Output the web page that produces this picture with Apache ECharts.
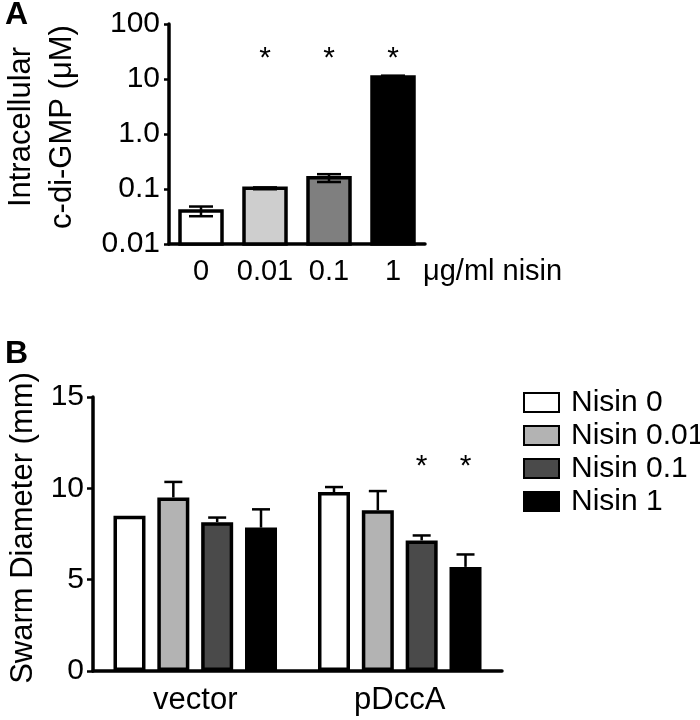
<!DOCTYPE html>
<html>
<head>
<meta charset="utf-8">
<script src="https://cdn.jsdelivr.net/npm/echarts@6/dist/echarts.min.js"></script>
<style>
html, body { margin: 0; padding: 0; background: #fff; }
#main { width: 700px; height: 720px; }
</style>
</head>
<body>
<div id="main"></div>
<script>
// ---- panel A: intracellular c-di-GMP vs nisin dose ----
var doseLabels = ['0', '0.01', '0.1', '1'];
var cdgMean = [0.04, 0.103, 0.16, 10.9];
var cdgErr = [0.008, 0.004, 0.026, 0.6];
var cdgSig = ['', '*', '*', '*'];
var logTicks = { '-2': '0.01', '-1': '0.1', '0': '1.0', '1': '10', '2': '100' };

// ---- panel B: swarm diameter ----
var strains = ['vector', 'pDccA'];
var nisinNames = ['Nisin 0', 'Nisin 0.01', 'Nisin 0.1', 'Nisin 1'];
var nisin0 = [8.5, 9.8];
var nisin001 = [9.5, 8.8];
var nisin01 = [8.15, 7.15];
var nisin1 = [7.85, 5.7];
var nisin0Err = [0, 0.27];
var nisin001Err = [0.85, 1.05];
var nisin01Err = [0.25, 0.27];
var nisin1Err = [1.0, 0.68];
var sigB = [['', ''], ['', ''], ['', '*'], ['', '*']];

var colorsA = ['#ffffff', '#cecece', '#7f7f7f', '#000000'];
var colorsB = ['#ffffff', '#b3b3b3', '#4a4a4a', '#000000'];
var font = 'Liberation Sans, Arial, Helvetica, sans-serif';

var swarmMeans = [nisin0, nisin001, nisin01, nisin1];
var swarmErrs = [nisin0Err, nisin001Err, nisin01Err, nisin1Err];

var barWA = 42;
var barWB = 32;
var gapB = 0.37;

var dataA = cdgMean.map(function (v, i) { return [i, v, cdgErr[i]]; });
var errDataB = [];
swarmMeans.forEach(function (arr, k) {
  arr.forEach(function (v, j) { errDataB.push([j, k, v, swarmErrs[k][j]]); });
});

function starText(x, y, txt) {
  return {
    type: 'text', x: x, y: y,
    style: { text: txt, fill: '#000', font: '30px ' + font, align: 'center', verticalAlign: 'middle' }
  };
}

function renderBarA(params, api) {
  var i = api.value(0);
  var top = api.coord([i, api.value(1)]);
  var base = api.coord([i, 0.01]);
  return {
    type: 'rect',
    shape: { x: top[0] - barWA / 2, y: top[1], width: barWA, height: base[1] - top[1] },
    style: { fill: colorsA[i], stroke: '#000', lineWidth: 3.5 }
  };
}

function renderErrA(params, api) {
  var i = api.value(0), m = api.value(1), e = api.value(2);
  var hi = api.coord([i, m + e]), lo = api.coord([i, m - e]);
  var c = 12;
  var st = { stroke: '#000', lineWidth: 2.5 };
  var kids = [
    { type: 'line', shape: { x1: hi[0], y1: hi[1], x2: lo[0], y2: lo[1] }, style: st },
    { type: 'line', shape: { x1: hi[0] - c, y1: hi[1], x2: hi[0] + c, y2: hi[1] }, style: st },
    { type: 'line', shape: { x1: lo[0] - c, y1: lo[1], x2: lo[0] + c, y2: lo[1] }, style: st }
  ];
  if (cdgSig[i]) kids.push(starText(hi[0], api.coord([i, 30])[1] + 6, cdgSig[i]));
  return { type: 'group', children: kids };
}

function renderErrB(params, api) {
  var j = api.value(0), k = api.value(1), m = api.value(2), e = api.value(3);
  var step = barWB * (1 + gapB);
  var x = api.coord([j, 0])[0] + (k - 1.5) * step;
  var top = api.coord([j, m])[1], hi = api.coord([j, m + e])[1];
  var c = 9;
  var st = { stroke: '#000', lineWidth: 2.5 };
  var kids = [];
  if (e > 0) {
    kids.push({ type: 'line', shape: { x1: x, y1: top, x2: x, y2: hi }, style: st });
    kids.push({ type: 'line', shape: { x1: x - c, y1: hi, x2: x + c, y2: hi }, style: st });
  }
  if (sigB[k][j]) kids.push(starText(x, api.coord([j, 11.5])[1] + 6, sigB[k][j]));
  return { type: 'group', children: kids };
}

var axisLine = { show: true, lineStyle: { color: '#000', width: 3.5 } };

var seriesB = nisinNames.map(function (name, k) {
  return {
    name: name,
    type: 'bar',
    xAxisIndex: 1,
    yAxisIndex: 1,
    barWidth: barWB,
    barGap: Math.round(gapB * 100) + '%',
    data: swarmMeans[k],
    itemStyle: { color: colorsB[k], borderColor: '#000', borderWidth: 3.5 },
    z: 2
  };
});

var myChart = echarts.init(document.getElementById('main'));
var option = {
  animation: false,
  backgroundColor: '#fff',
  textStyle: { fontFamily: font, color: '#000' },
  title: [
    { text: 'A', left: 0, top: -6, textStyle: { fontSize: 32, fontWeight: 'bold', fontFamily: font, color: '#000' } },
    { text: 'B', left: 0, top: 333, textStyle: { fontSize: 32, fontWeight: 'bold', fontFamily: font, color: '#000' } }
  ],
  legend: {
    data: nisinNames,
    orient: 'vertical',
    left: 518,
    top: 381,
    itemWidth: 35,
    itemHeight: 19,
    itemGap: 0,
    icon: 'rect',
    selectedMode: false,
    textStyle: { fontSize: 30, fontFamily: font, color: '#000', lineHeight: 33, padding: [0, 0, 0, 7] }
  },
  grid: [
    { left: 164, top: 24, right: 275, bottom: 476 },
    { left: 88, top: 397, right: 198, bottom: 49 }
  ],
  xAxis: [
    {
      type: 'category', gridIndex: 0, data: doseLabels,
      axisLine: axisLine,
      axisTick: { alignWithLabel: true, length: 7, lineStyle: { color: '#000', width: 2.5 } },
      axisLabel: { fontSize: 29, color: '#000', margin: 13, interval: 0 },
      name: 'μg/ml nisin', nameLocation: 'end', nameGap: -2,
      nameTextStyle: { fontSize: 29, color: '#000', align: 'left', verticalAlign: 'top', padding: [13, 0, 0, 0] }
    },
    {
      type: 'category', gridIndex: 1, data: strains,
      axisLine: axisLine,
      axisTick: { alignWithLabel: true, length: 9, lineStyle: { color: '#000', width: 2.5 } },
      axisLabel: { fontSize: 31, color: '#000', margin: 14, interval: 0 }
    }
  ],
  yAxis: [
    {
      type: 'log', gridIndex: 0, logBase: 10, min: 0.01, max: 100,
      axisLine: axisLine,
      axisTick: { show: true, length: 5, lineStyle: { color: '#000', width: 2.5 } },
      minorTick: { show: false },
      splitLine: { show: false },
      axisLabel: {
        fontSize: 30, color: '#000', margin: 9,
        formatter: function (v) { return logTicks[String(Math.round(Math.log10(v)))] || ''; }
      },
      name: 'Intracellular\nc-di-GMP (μM)', nameLocation: 'middle', nameGap: 86,
      nameTextStyle: { fontSize: 31, color: '#000', lineHeight: 41, padding: [0, 0, 0, 14] }
    },
    {
      type: 'value', gridIndex: 1, min: 0, max: 15, interval: 5,
      axisLine: axisLine,
      axisTick: { show: true, length: 6, lineStyle: { color: '#000', width: 2.5 } },
      splitLine: { show: false },
      axisLabel: { fontSize: 30, color: '#000', margin: 9 },
      name: 'Swarm Diameter (mm)', nameLocation: 'middle', nameGap: 54,
      nameTextStyle: { fontSize: 31, color: '#000', padding: [0, 0, 0, 12] }
    }
  ],
  series: [
    {
      type: 'custom', name: 'cdg', xAxisIndex: 0, yAxisIndex: 0,
      renderItem: renderBarA, data: dataA, z: 2
    },
    {
      type: 'custom', name: 'cdgErr', xAxisIndex: 0, yAxisIndex: 0,
      renderItem: renderErrA, data: dataA, z: 3
    }
  ].concat(seriesB).concat([
    {
      type: 'custom', name: 'swarmErr', xAxisIndex: 1, yAxisIndex: 1,
      renderItem: renderErrB, data: errDataB, z: 3
    }
  ])
};
myChart.setOption(option);
</script>
</body>
</html>
